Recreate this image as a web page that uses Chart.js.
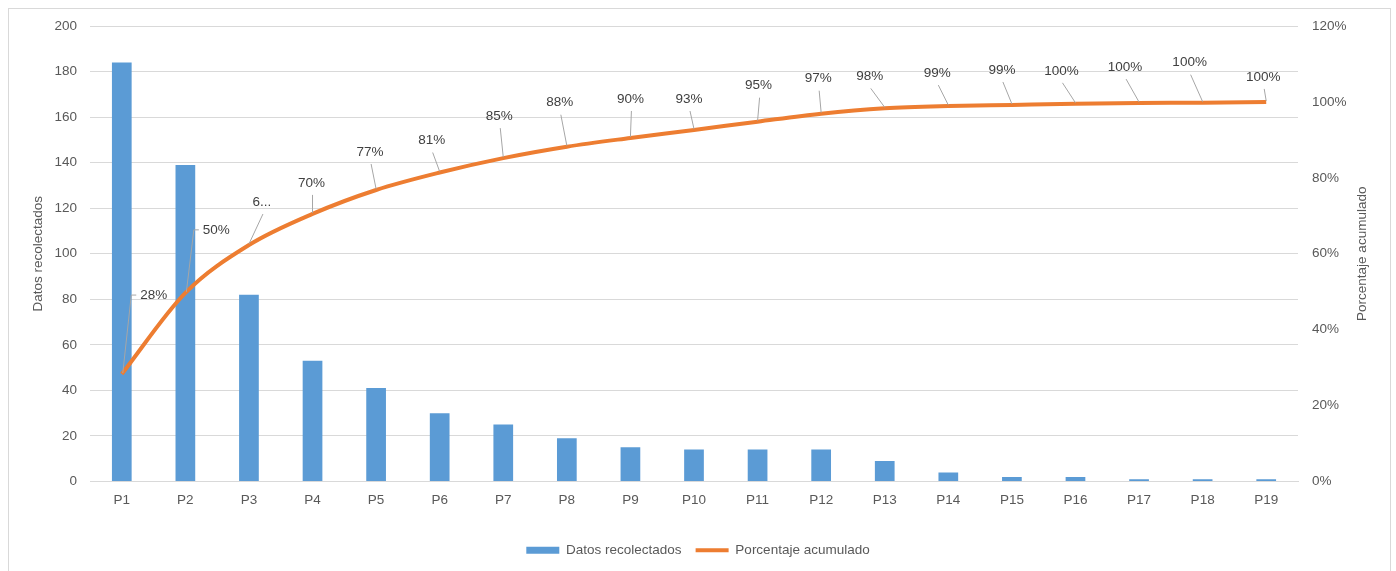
<!DOCTYPE html>
<html>
<head>
<meta charset="utf-8">
<script src="https://cdn.jsdelivr.net/npm/chart.js@4.4.1/dist/chart.umd.min.js"></script>
<style>
  html, body { margin: 0; padding: 0; background: #fff; }
  #marco { position: absolute; left: 8px; top: 8px; width: 1381px; height: 580px; border: 1px solid #d9d9d9; }
  #wrap { position: absolute; left: 0; top: 0; width: 1396px; height: 571px; }
</style>
</head>
<body>
<div id="marco"></div>
<div id="wrap"><canvas id="mainChart"></canvas></div>
<script>
// Datos del gráfico de Pareto
const categorias = ['P1','P2','P3','P4','P5','P6','P7','P8','P9','P10','P11','P12','P13','P14','P15','P16','P17','P18','P19'];
const datosRecolectados = [184, 139, 82, 53, 41, 30, 25, 19, 15, 14, 14, 14, 9, 4, 2, 2, 1, 1, 1];
const porcentajeAcumulado = [28.3, 49.7, 62.3, 70.5, 76.8, 81.4, 85.2, 88.2, 90.5, 92.6, 94.8, 96.9, 98.3, 98.9, 99.2, 99.5, 99.7, 99.8, 100];
const etiquetasPct = ['28%','50%','6...','70%','77%','81%','85%','88%','90%','93%','95%','97%','98%','99%','99%','100%','100%','100%','100%'];
const ticksIzq = [0, 20, 40, 60, 80, 100, 120, 140, 160, 180, 200];
const ticksDer = [0, 20, 40, 60, 80, 100, 120];

const fuente = '"Liberation Sans", Arial, sans-serif';
const gris = '#595959';

// desplazamiento de cada etiqueta respecto a su punto (como las dejó Excel)
const desplazEtiquetas = [
  [32,-79],[31,-63],[13,-43],[-1,-31],[-6,-38],[-8,-32],[-4,-42],[-7,-44],[0,-39],[-5,-31],
  [1,-36],[-3,-35],[-15,-32],[-11,-33],[-10,-35],[-14,-33],[-14,-36],[-13,-40],[-3,-25]
];

// plugin: etiquetas con líneas guía + título del eje derecho
const etiquetasPlugin = {
  id: 'etiquetas',
  afterDatasetsDraw(chart) {
    const meta = chart.getDatasetMeta(1);
    const c = chart.ctx;
    c.save();
    c.font = '13.5px ' + fuente;
    c.textAlign = 'center';
    c.textBaseline = 'middle';
    meta.data.forEach((pt, i) => {
      const [dx, dy] = desplazEtiquetas[i];
      const lx = pt.x + dx, ly = pt.y + dy;
      const w = c.measureText(etiquetasPct[i]).width;
      c.strokeStyle = '#a6a6a6';
      c.lineWidth = 1;
      c.beginPath();
      if (dx > 20) {
        const bx = lx - w / 2 - 4;
        c.moveTo(bx, ly);
        c.lineTo(bx - 5, ly);
        c.lineTo(pt.x + 1, pt.y - 1);
      } else {
        c.moveTo(lx + 1, ly + 12);
        c.lineTo(pt.x, pt.y - 1);
      }
      c.stroke();
      c.fillStyle = '#404040';
      c.fillText(etiquetasPct[i], lx, ly);
    });
    c.restore();
  },
  afterDraw(chart) {
    const a = chart.chartArea;
    const c = chart.ctx;
    c.save();
    c.translate(1362, (a.top + a.bottom) / 2);
    c.rotate(-Math.PI / 2);
    c.font = '13.5px ' + fuente;
    c.fillStyle = gris;
    c.textAlign = 'center';
    c.textBaseline = 'middle';
    c.fillText('Porcentaje acumulado', 0, 0);
    c.restore();
  }
};

const ctx = document.getElementById('mainChart');
const chart = new Chart(ctx, {
  type: 'bar',
  data: {
    labels: categorias,
    datasets: [
      {
        type: 'bar',
        label: 'Datos recolectados',
        data: datosRecolectados,
        backgroundColor: '#5b9bd5',
        categoryPercentage: 1,
        barPercentage: 0.31,
        yAxisID: 'y',
        order: 1
      },
      {
        type: 'line',
        label: 'Porcentaje acumulado',
        data: porcentajeAcumulado,
        borderColor: '#ed7d31',
        backgroundColor: '#ed7d31',
        borderWidth: 4,
        pointRadius: 0,
        cubicInterpolationMode: 'monotone',
        fill: false,
        yAxisID: 'y1',
        order: 0
      }
    ]
  },
  options: {
    responsive: true,
    maintainAspectRatio: false,
    animation: false,
    layout: { padding: { top: 26, bottom: 4, left: 0, right: 0 } },
    plugins: {
      tooltip: { enabled: false },
      legend: {
        position: 'bottom',
        labels: {
          font: { family: fuente, size: 13.5 },
          color: gris,
          padding: 14,
          usePointStyle: true,
          pointStyleWidth: 33,
          boxHeight: 7,
          generateLabels: () => [
            { text: 'Datos recolectados', fillStyle: '#5b9bd5', strokeStyle: '#5b9bd5', lineWidth: 0, pointStyle: 'rect', datasetIndex: 0, fontColor: gris },
            { text: 'Porcentaje acumulado', fillStyle: '#ed7d31', strokeStyle: '#ed7d31', lineWidth: 4, pointStyle: 'line', datasetIndex: 1, fontColor: gris }
          ]
        }
      }
    },
    scales: {
      x: {
        grid: { display: false },
        border: { color: '#d9d9d9' },
        ticks: { color: gris, font: { family: fuente, size: 13.5 }, padding: 3, maxRotation: 0 },
        afterFit(s) { s.height = 48; }
      },
      y: {
        position: 'left',
        min: 0, max: 200,
        afterBuildTicks(s) { s.ticks = ticksIzq.map(v => ({ value: v })); },
        grid: { color: '#d9d9d9', drawTicks: false },
        border: { display: false },
        ticks: { color: gris, font: { family: fuente, size: 13.5 }, padding: 13 },
        title: { display: true, text: 'Datos recolectados', color: gris, font: { family: fuente, size: 13.5 }, padding: { top: 30, bottom: 0 } },
        afterFit(s) { s.width = 90; }
      },
      y1: {
        position: 'right',
        min: 0, max: 120,
        afterBuildTicks(s) { s.ticks = ticksDer.map(v => ({ value: v })); },
        grid: { display: false, drawTicks: false },
        border: { display: false },
        ticks: { color: gris, font: { family: fuente, size: 13.5 }, padding: 14, callback: v => v + '%' },
        afterFit(s) { s.width = 98; }
      }
    }
  },
  plugins: [etiquetasPlugin]
});
</script>
</body>
</html>
